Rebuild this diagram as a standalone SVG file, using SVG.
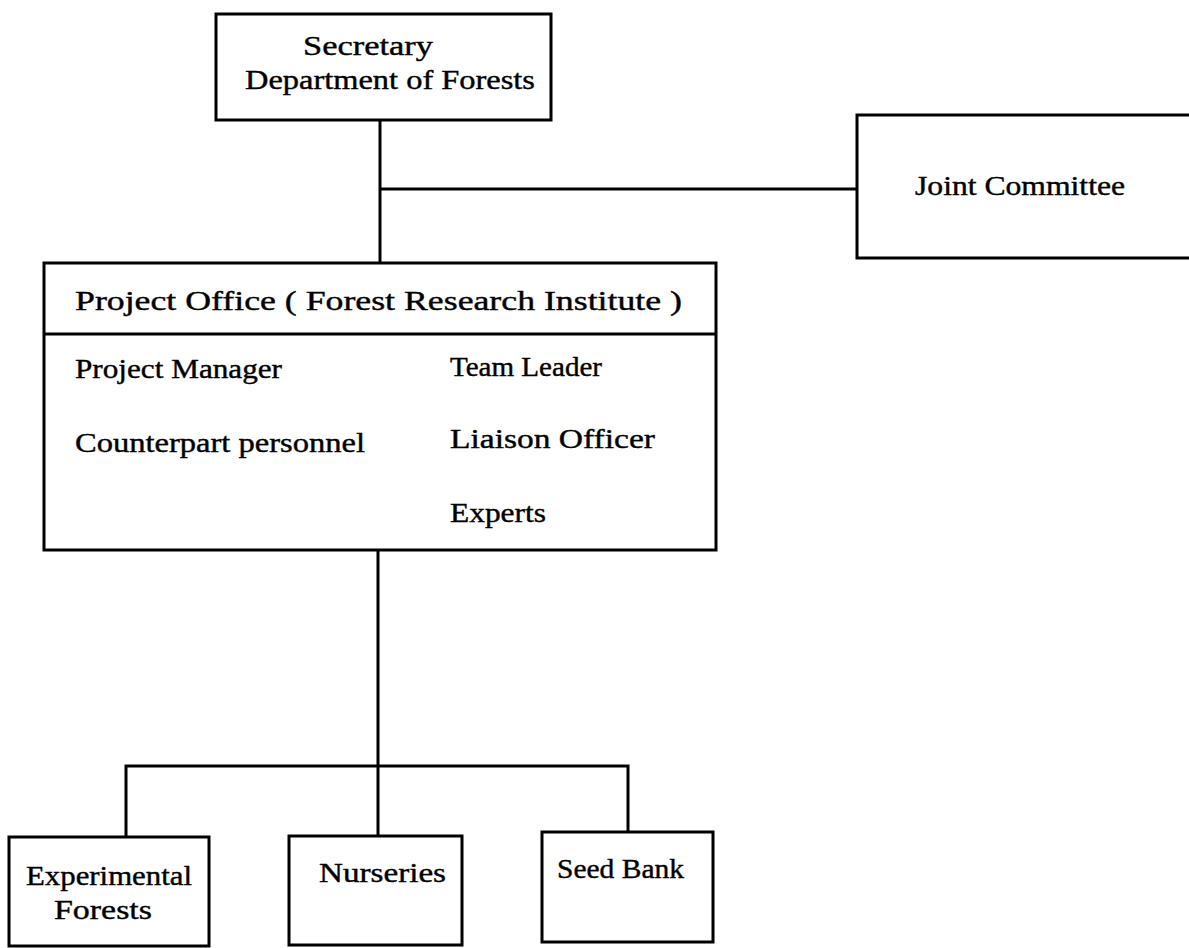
<svg xmlns="http://www.w3.org/2000/svg" width="1189" height="948" viewBox="0 0 1189 948">
<style>
.box{fill:#fff;stroke:#000;stroke-width:3}
.ln{fill:none;stroke:#000;stroke-width:3}
.t{font-family:"Liberation Serif","DejaVu Serif",serif;font-size:27px;fill:#000;stroke:#000;stroke-width:0.4}
</style>
<rect width="1189" height="948" fill="#fff"/>
<g id="connectors">
<path class="ln" d="M380 120 V263"/>
<path class="ln" d="M380 189 H857"/>
<path class="ln" d="M378 550 V836"/>
<path class="ln" d="M126 837 V766 H628 V832"/>
</g>
<g id="secretary">
<rect class="box" x="216" y="14" width="335" height="106"/>
<text class="t" x="303" y="55" textLength="130" lengthAdjust="spacingAndGlyphs">Secretary</text>
<text class="t" x="245" y="89" textLength="290" lengthAdjust="spacingAndGlyphs">Department of Forests</text>
</g>
<g id="joint-committee">
<path class="box" d="M1192 115 H857 V258 H1192"/>
<text class="t" x="915" y="195" textLength="210" lengthAdjust="spacingAndGlyphs">Joint Committee</text>
</g>
<g id="project-office">
<rect class="box" x="44" y="263" width="672" height="287"/>
<path class="ln" d="M44 334 H716"/>
<text class="t" x="75" y="310" textLength="607" lengthAdjust="spacingAndGlyphs">Project Office ( Forest Research Institute )</text>
<text class="t" x="75" y="378" textLength="207" lengthAdjust="spacingAndGlyphs">Project Manager</text>
<text class="t" x="75" y="452" textLength="290" lengthAdjust="spacingAndGlyphs">Counterpart personnel</text>
<text class="t" x="450" y="376" textLength="152" lengthAdjust="spacingAndGlyphs">Team Leader</text>
<text class="t" x="450" y="448" textLength="205" lengthAdjust="spacingAndGlyphs">Liaison Officer</text>
<text class="t" x="450" y="522" textLength="96" lengthAdjust="spacingAndGlyphs">Experts</text>
</g>
<g id="experimental-forests">
<rect class="box" x="9" y="837" width="200" height="109"/>
<text class="t" x="26" y="885" textLength="166" lengthAdjust="spacingAndGlyphs">Experimental</text>
<text class="t" x="54" y="919" textLength="98" lengthAdjust="spacingAndGlyphs">Forests</text>
</g>
<g id="nurseries">
<rect class="box" x="289" y="836" width="173" height="109"/>
<text class="t" x="319" y="882" textLength="127" lengthAdjust="spacingAndGlyphs">Nurseries</text>
</g>
<g id="seed-bank">
<rect class="box" x="542" y="832" width="171" height="110"/>
<text class="t" x="557" y="878" textLength="127" lengthAdjust="spacingAndGlyphs">Seed Bank</text>
</g>
</svg>
